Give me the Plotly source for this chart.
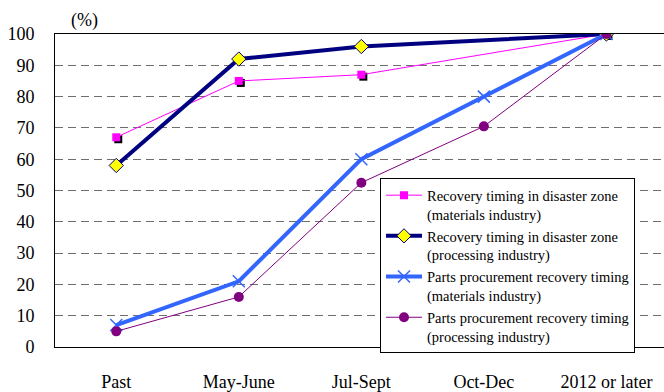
import plotly.graph_objects as go

# Survey data: cumulative share of firms recovered (%) by period
periods = ["Past", "May-June", "Jul-Sept", "Oct-Dec", "2012 or later"]
zone_materials = [67, 85, 87, None, 100]
zone_processing = [58, 92, 96, None, 100]
parts_materials = [7, 21, 60, 80, 100]
parts_processing = [5, 16, 52.5, 70.5, 100]

names = [
    "Recovery timing in disaster zone<br>(materials industry)",
    "Recovery timing in disaster zone<br>(processing industry)",
    "Parts procurement recovery timing<br>(materials industry)",
    "Parts procurement recovery timing<br>(processing industry)",
]

FONT = "Liberation Serif"
W, H = 664, 392
ML, MT, MB, MR = 55, 34, 39, 0
xpos = list(range(len(periods)))
xr = [-0.5, 4.47]
yr = [0, 100]

# pixel offset of the drop shadow behind the square markers
pw, ph = W - ML - MR, H - MT - MB
dx = 2 * (xr[1] - xr[0]) / pw
dy = 2 * (yr[1] - yr[0]) / ph

fig = go.Figure()

# drop shadow for the square markers (base subplot, drawn first / underneath)
fig.add_trace(go.Scatter(
    x=xpos, y=zone_materials, xaxis="x", yaxis="y", mode="markers",
    marker=dict(symbol="square", size=8, color="black"),
    showlegend=False, hoverinfo="skip"))

fig.add_trace(go.Scatter(
    x=xpos, y=zone_materials, name=names[0], xaxis="x2", yaxis="y2",
    mode="lines+markers", connectgaps=True,
    line=dict(color="#FF00FF", width=1),
    marker=dict(symbol="square", size=8, color="#FF00FF")))

fig.add_trace(go.Scatter(
    x=xpos, y=zone_processing, name=names[1], xaxis="x2", yaxis="y2",
    mode="lines+markers", connectgaps=True,
    line=dict(color="#000080", width=4),
    marker=dict(symbol="diamond", size=11, color="#FFFF00",
                line=dict(color="#000080", width=1))))

fig.add_trace(go.Scatter(
    x=xpos, y=parts_materials, name=names[2], xaxis="x2", yaxis="y2",
    mode="lines+markers",
    line=dict(color="#3366FF", width=4),
    marker=dict(symbol="x-thin", size=12, color="#3366FF",
                line=dict(color="#3366FF", width=1.5))))

fig.add_trace(go.Scatter(
    x=xpos, y=parts_processing, name=names[3], xaxis="x2", yaxis="y2",
    mode="lines+markers",
    line=dict(color="#800080", width=1),
    marker=dict(symbol="circle", size=10, color="#800080")))

fig.update_layout(
    width=W, height=H,
    margin=dict(l=ML, r=MR, t=MT, b=MB, pad=0),
    paper_bgcolor="white", plot_bgcolor="white",
    font=dict(family=FONT, color="black", size=18),
    # base axes only carry the shadow, shifted 2px right and down
    xaxis=dict(range=[xr[0] - dx, xr[1] - dx], visible=False),
    yaxis=dict(range=[yr[0] + dy, yr[1] + dy], visible=False),
    xaxis2=dict(
        overlaying="x", anchor="y2", side="bottom",
        range=xr, tickmode="array", tickvals=xpos, ticktext=periods,
        showgrid=False, zeroline=False, ticks="", ticklabelstandoff=18,
        showline=True, linecolor="black", linewidth=1, mirror=True,
        tickfont=dict(family=FONT, size=18)),
    xaxis3=dict(
        overlaying="x", anchor="y2", side="bottom", range=xr,
        tickmode="array", tickvals=[0.5, 1.5, 2.5, 3.5],
        showticklabels=False, ticks="outside", ticklen=7, tickcolor="#333333",
        tickwidth=1, showgrid=True, gridcolor="#333333", gridwidth=1,
        zeroline=False, showline=False),
    yaxis2=dict(
        overlaying="y", anchor="x2", side="left",
        range=yr, tickmode="linear", tick0=0, dtick=10,
        showgrid=True, gridcolor="#6E6E6E", gridwidth=1, griddash="8px,5px",
        zeroline=True, zerolinecolor="black", zerolinewidth=2.5,
        showline=True, linecolor="black", linewidth=1,
        ticks="", ticklabelstandoff=16,
        tickfont=dict(family=FONT, size=18)),
    legend=dict(
        x=(380 - ML) / pw, y=(H - MB - 181) / ph, xanchor="left", yanchor="top",
        bgcolor="white", bordercolor="black", borderwidth=1,
        font=dict(family=FONT, size=14.5, color="black"),
        valign="top", tracegroupgap=0, itemwidth=36),
    annotations=[dict(
        text="(%)", xref="paper", yref="paper", x=(84 - ML) / pw, y=1 + (MT - 20) / ph,
        xanchor="center", yanchor="middle", showarrow=False,
        font=dict(family=FONT, size=18))],
)

fig.write_html("out.html")
